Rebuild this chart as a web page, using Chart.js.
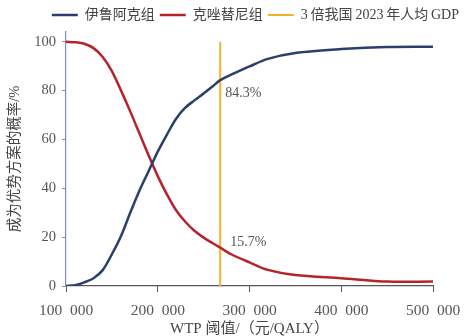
<!DOCTYPE html>
<html lang="zh-CN">
<head>
  <meta charset="UTF-8">
  <title>成本效果可接受曲线</title>
  <script src="https://cdn.jsdelivr.net/npm/chart.js"></script>
  <style>
    html, body { margin: 0; padding: 0; background: #fff; }
    #box { width: 464px; height: 336px; }
  </style>
</head>
<body>
  <div id="box"><canvas id="ceac"></canvas></div>
  <script>
    // WTP 阈值 (元/QALY)
    const wtp = [100000, 110000, 120000, 130000, 140000, 150000, 160000, 170000, 180000, 190000,
                 200000, 210000, 220000, 230000, 240000, 250000, 260000, 268074, 280000, 300000,
                 320000, 350000, 400000, 450000, 500000];
    const yiluake = [0, 0.3, 1.5, 3.2, 6.5, 13, 20.5, 30, 39, 47,
                     55, 62, 68.5, 73, 76, 78.8, 81.8, 84.3, 86.5, 89.9,
                     93, 95.4, 97, 97.9, 98];
    const kezuotini = [100, 99.8, 99.2, 97.4, 93.8, 88, 80, 71.5, 62.5, 53.5,
                       45, 37.5, 31, 26.3, 22.6, 19.8, 17.5, 15.7, 13, 9.7,
                       6.6, 4.5, 3.2, 1.8, 1.8];
    const gdpLine = 268074; // 3 倍我国 2023 年人均 GDP
    const xTicks = [100000, 200000, 300000, 400000, 500000];
    const yTicks = [0, 20, 40, 60, 80, 100];

    const serif = "'Liberation Serif', 'Noto Sans CJK SC', serif";

    // 在阈值线旁标注百分比
    const labelPlugin = {
      id: 'gdpLabels',
      afterDatasetsDraw(chart) {
        const { ctx, scales } = chart;
        const i = wtp.indexOf(gdpLine);
        const x = scales.x.getPixelForValue(gdpLine);
        ctx.save();
        ctx.font = "14px " + serif;
        ctx.fillStyle = '#555';
        ctx.textBaseline = 'middle';
        ctx.fillText(yiluake[i] + '%', x + 5, scales.y.getPixelForValue(yiluake[i]) + 13);
        ctx.fillText(kezuotini[i] + '%', x + 10, scales.y.getPixelForValue(kezuotini[i]) - 5);
        ctx.restore();
      }
    };

    new Chart(document.getElementById('ceac'), {
      type: 'line',
      data: {
        datasets: [
          {
            label: '伊鲁阿克组',
            data: wtp.map((v, i) => ({ x: v, y: yiluake[i] })),
            borderColor: '#2b3f6c',
            borderWidth: 2.5,
            pointRadius: 0,
            tension: 0.3
          },
          {
            label: '克唑替尼组',
            data: wtp.map((v, i) => ({ x: v, y: kezuotini[i] })),
            borderColor: '#b5232b',
            borderWidth: 2.5,
            pointRadius: 0,
            tension: 0.3
          },
          {
            label: '3\u2009倍我国\u20092023\u2009年人均\u2009GDP',
            data: [{ x: gdpLine, y: 0 }, { x: gdpLine, y: 100 }],
            borderColor: '#f4b030',
            borderWidth: 2,
            pointRadius: 0
          }
        ]
      },
      options: {
        responsive: true,
        maintainAspectRatio: false,
        animation: false,
        layout: { padding: { top: 3, right: 0, left: 0, bottom: 0 } },
        plugins: {
          legend: {
            position: 'top',
            align: 'end',
            labels: {
              usePointStyle: true,
              pointStyle: 'line',
              pointStyleWidth: 26,
              boxHeight: 2,
              padding: 5,
              color: '#444',
              font: { family: serif, size: 14 }
            }
          },
          tooltip: { enabled: false }
        },
        scales: {
          x: {
            type: 'linear',
            min: 100000,
            max: 500000,
            afterBuildTicks: axis => { axis.ticks = xTicks.map(v => ({ value: v })); },
            afterFit: axis => { axis.height = 50; axis.paddingRight = 31; axis.paddingLeft = 0; },
            border: { color: '#555', width: 1.2 },
            grid: { drawOnChartArea: false, tickLength: 6, color: '#555' },
            ticks: {
              color: '#555',
              padding: 10,
              maxRotation: 0,
              font: { family: serif, size: 15.5 },
              callback: v => (v / 1000) + '\u2002000'
            },
            title: {
              display: true,
              text: 'WTP 阈值/（元/QALY）',
              color: '#444',
              padding: { top: 0, bottom: -2 },
              font: { family: serif, size: 15 }
            }
          },
          y: {
            min: 0,
            max: 104,
            afterBuildTicks: axis => { axis.ticks = yTicks.map(v => ({ value: v })); },
            afterFit: axis => { axis.width = 66; },
            border: { color: '#8090b0', width: 1.2 },
            grid: { drawOnChartArea: false, tickLength: 4, color: '#8090b0' },
            ticks: {
              color: '#555',
              padding: 6,
              font: { family: serif, size: 14.5 }
            },
            title: {
              display: true,
              text: '成为优势方案的概率/%',
              color: '#444',
              padding: { top: 6, bottom: 0 },
              font: { family: serif, size: 14.5 }
            }
          }
        }
      },
      plugins: [labelPlugin]
    });
  </script>
</body>
</html>
